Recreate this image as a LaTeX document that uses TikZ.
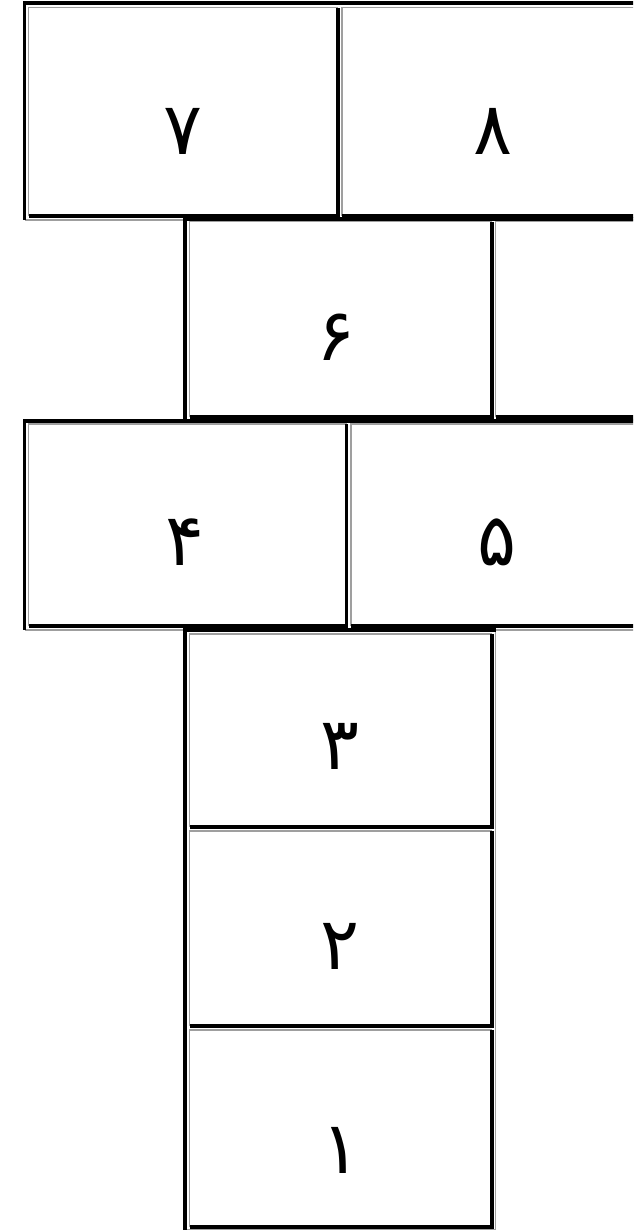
\documentclass[tikz,border=0pt]{standalone}
\usepackage{fontspec}
\newfontfamily\fadigits[Script=Arabic]{DejaVu Sans}
\TeXXeTstate=1
\usetikzlibrary{positioning}

\begin{document}
\begin{tikzpicture}[
    x=0.03cm, y=-0.03cm,
    dark/.style={line width=3pt, black},
    light/.style={line width=1.5pt, gray!75},
    digit/.style={font=\fadigits\fontsize{62}{62}\selectfont, inner sep=0pt}
]
    \clip (0,0) rectangle (633,1231);
    \fill[white] (0,0) rectangle (633,1231);

    % outer borders of the four tables
    \foreach \xa/\ya/\xb/\yb in {24.5/3/660/220, 185/219/660/420,
                                 24.5/421/660/630, 185/630/495.5/1229.5} {
        \draw[light] (\xa,\yb) -- (\xb,\yb) -- (\xb,\ya);
        \draw[dark] (\xb,\ya) -- (\xa,\ya) -- (\xa,\yb);
    }

    % cells
    \foreach \xa/\ya/\xb/\yb in {28.5/7.5/338/216, 342/7.5/648/216,
                                 189.5/221.5/492/417, 495.5/221.5/648/417,
                                 28.5/424/346.5/626, 351/424/648/626,
                                 189.5/634/492/827, 189.5/831/492/1026,
                                 189.5/1030/492/1227} {
        \draw[light] (\xa,\yb) -- (\xa,\ya) -- (\xb,\ya);
        \draw[dark] (\xa,\yb) -- (\xb,\yb) -- (\xb,\ya);
    }

    % numbers
    \node[digit] (n7) at (183,131) {\beginR ۷\endR};
    \node[digit] (n8) at (493,131) {\beginR ۸\endR};
    \node[digit] (n6) at (336,337) {\beginR ۶\endR};
    \node[digit] (n4) at (185,542) {\beginR ۴\endR};
    \node[digit] (n5) at (497,542) {\beginR ۵\endR};
    \node[digit] (n3) at (340,746) {\beginR ۳\endR};
    \node[digit] (n2) at (340,946) {\beginR ۲\endR};
    \node[digit] (n1) at (341,1150) {\beginR ۱\endR};
\end{tikzpicture}
\end{document}
